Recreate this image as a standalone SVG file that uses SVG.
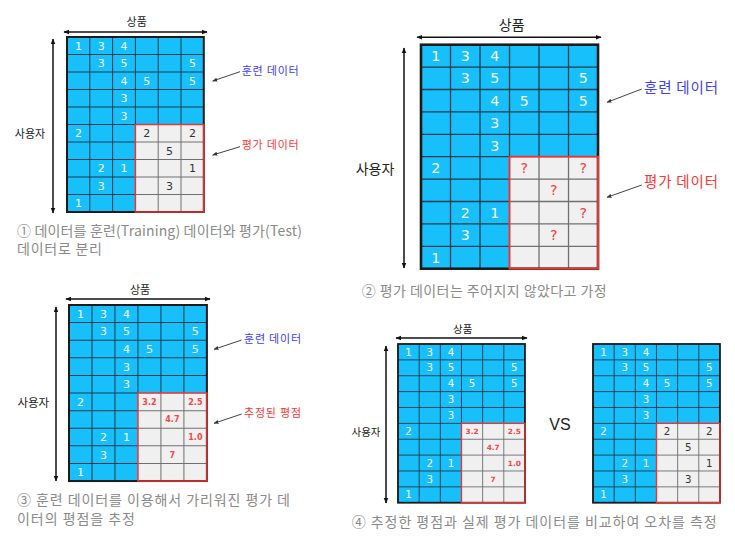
<svg xmlns="http://www.w3.org/2000/svg" xmlns:xlink="http://www.w3.org/1999/xlink" width="735" height="539" viewBox="0 0 735 539">
<style>
.kr{font-family:"Noto Sans CJK KR","Noto Sans",sans-serif}
.ax{fill:#222}
.tr{fill:#3d3dff}
.te{fill:#ff3535}
.cap{fill:#8a8a8a;font-size:14px}
.d{font-family:"DejaVu Sans",Verdana,sans-serif;font-size:11px;text-anchor:middle}
.w{fill:#f4fbff}
.k{fill:#333}
.q{fill:#ff3b3b}
.p{font-family:"DejaVu Sans",Verdana,sans-serif;font-size:8px;font-weight:bold;text-anchor:middle;fill:#f04848}
.gl{stroke:#1f3d4c;stroke-width:1;fill:none}
.gg{stroke:#707070;stroke-width:1;fill:none}
.axis{stroke:#111;stroke-width:1.5;fill:none}
.ptr{stroke:#444;stroke-width:1;fill:none}
</style>
<defs>
<marker id="ah" viewBox="0 0 10 10" refX="9" refY="5" markerWidth="6" markerHeight="6" orient="auto-start-reverse" markerUnits="userSpaceOnUse"><path d="M0,1 L10,5 L0,9z" fill="#111"/></marker>
<marker id="ph" viewBox="0 0 10 10" refX="9" refY="5" markerWidth="5" markerHeight="5" orient="auto" markerUnits="userSpaceOnUse"><path d="M0,1 L10,5 L0,9z" fill="#333"/></marker>
<g id="base">
<rect width="136.8" height="175" fill="#17bffb"/>
<rect x="68.4" y="87.5" width="68.4" height="87.5" fill="#f0f0f0"/>
<path class="gl" d="M22.8 0V175M45.6 0V175M68.4 0V87.5M91.2 0V87.5M114 0V87.5M0 17.5H136.8M0 35H136.8M0 52.5H136.8M0 70H136.8M0 87.5H68.4M0 105H68.4M0 122.5H68.4M0 140H68.4M0 157.5H68.4"/>
<path class="gg" d="M91.2 87.5V175M114 87.5V175M68.4 105H136.8M68.4 122.5H136.8M68.4 140H136.8M68.4 157.5H136.8"/>
<rect width="136.8" height="175" fill="none" stroke="#1a1a1a" stroke-width="2"/>
<rect x="68.4" y="87.5" width="68.4" height="87.5" fill="none" stroke="#ee3333" stroke-width="1.5"/>
<g class="d w">
<text x="11.4" y="12.75">1</text><text x="34.2" y="12.75">3</text><text x="57" y="12.75">4</text>
<text x="34.2" y="30.25">3</text><text x="57" y="30.25">5</text><text x="125.4" y="30.25">5</text>
<text x="57" y="47.75">4</text><text x="79.8" y="47.75">5</text><text x="125.4" y="47.75">5</text>
<text x="57" y="65.25">3</text>
<text x="57" y="82.75">3</text>
<text x="11.4" y="100.25">2</text>
<text x="34.2" y="135.25">2</text><text x="57" y="135.25">1</text>
<text x="34.2" y="152.75">3</text>
<text x="11.4" y="170.25">1</text>
</g>
</g>
<g id="actual" class="d k">
<text x="79.8" y="100.25">2</text><text x="125.4" y="100.25">2</text>
<text x="102.6" y="117.75">5</text>
<text x="125.4" y="135.25">1</text>
<text x="102.6" y="152.75">3</text>
</g>
<g id="pred" class="p">
<text x="79.8" y="99.15">3.2</text><text x="125.4" y="99.15">2.5</text>
<text x="102.6" y="116.65">4.7</text>
<text x="125.4" y="134.15">1.0</text>
<text x="102.6" y="151.65">7</text>
</g>
</defs>

<g id="panel1">
<g transform="translate(67,37)"><use xlink:href="#base"/><use xlink:href="#actual"/></g>
<text class="kr ax" x="136.7" y="25.5" font-size="11" text-anchor="middle">상품</text>
<text class="kr ax" x="30" y="138.3" font-size="11" text-anchor="middle">사용자</text>
<text class="kr tr" x="241.7" y="75.2" font-size="11" textLength="57" lengthAdjust="spacing">훈련 데이터</text>
<text class="kr te" x="241.7" y="148.7" font-size="11" textLength="57" lengthAdjust="spacing">평가 데이터</text>
<text class="kr cap" x="17" y="235.8" textLength="285" lengthAdjust="spacing">① 데이터를 훈련(Training) 데이터와 평가(Test)</text>
<text class="kr cap" x="17" y="254.2" textLength="85" lengthAdjust="spacing">데이터로 분리</text>
</g>

<g id="panel2">
<g transform="translate(421,44.7) scale(1.294,1.28)"><use xlink:href="#base"/>
<g class="d q">
<text x="79.8" y="100.25">?</text><text x="125.4" y="100.25">?</text>
<text x="102.6" y="117.75">?</text>
<text x="125.4" y="135.25">?</text>
<text x="102.6" y="152.75">?</text>
</g></g>
<text class="kr ax" x="511.7" y="30" font-size="14" text-anchor="middle">상품</text>
<text class="kr ax" x="375" y="174" font-size="14" text-anchor="middle">사용자</text>
<text class="kr tr" x="644" y="93" font-size="14.5" textLength="74" lengthAdjust="spacing">훈련 데이터</text>
<text class="kr te" x="644" y="187.2" font-size="14.5" textLength="74" lengthAdjust="spacing">평가 데이터</text>
<text class="kr cap" x="361.7" y="296" textLength="245" lengthAdjust="spacing">② 평가 데이터는 주어지지 않았다고 가정</text>
</g>

<g id="panel3">
<g transform="translate(69,305) scale(1.008,1.006)"><use xlink:href="#base"/><use xlink:href="#pred"/></g>
<text class="kr ax" x="140" y="294" font-size="11" text-anchor="middle">상품</text>
<text class="kr ax" x="33.3" y="406.5" font-size="11.5" text-anchor="middle">사용자</text>
<text class="kr tr" x="244" y="343" font-size="11" textLength="57" lengthAdjust="spacing">훈련 데이터</text>
<text class="kr te" x="244" y="417.3" font-size="11" textLength="57" lengthAdjust="spacing">추정된 평점</text>
<text class="kr cap" x="17" y="505.3" textLength="273" lengthAdjust="spacing">③ 훈련 데이터를 이용해서 가리워진 평가 데</text>
<text class="kr cap" x="17" y="523.5" textLength="118" lengthAdjust="spacing">이터의 평점을 추정</text>
</g>

<g id="panel4">
<g transform="translate(398,344) scale(0.928,0.907)"><use xlink:href="#base"/><use xlink:href="#pred"/></g>
<g transform="translate(593,344) scale(0.928,0.907)"><use xlink:href="#base"/><use xlink:href="#actual"/></g>
<text class="kr ax" x="462.7" y="333" font-size="10.5" text-anchor="middle">상품</text>
<text class="kr ax" x="366" y="436" font-size="10.5" text-anchor="middle">사용자</text>
<text x="560" y="430" font-family="Liberation Sans, Arial, sans-serif" font-size="16" fill="#222" text-anchor="middle">VS</text>
<text class="kr cap" x="351.7" y="527" textLength="365" lengthAdjust="spacing">④ 추정한 평점과 실제 평가 데이터를 비교하여 오차를 측정</text>
</g>

<g id="connectors">
<path class="axis" d="M64 32H207" marker-start="url(#ah)" marker-end="url(#ah)"/>
<path class="axis" d="M53 39V213" marker-start="url(#ah)" marker-end="url(#ah)"/>
<path class="ptr" d="M240 71.7L212.7 81" marker-end="url(#ph)"/>
<path class="ptr" d="M240 146.7L212.7 155" marker-end="url(#ph)"/>
<path class="axis" d="M417 37.3H601" marker-start="url(#ah)" marker-end="url(#ah)"/>
<path class="axis" d="M404 48V268" marker-start="url(#ah)" marker-end="url(#ah)"/>
<path class="ptr" d="M641.7 89L607 102.3" marker-end="url(#ph)"/>
<path class="ptr" d="M641.7 185L607 197.3" marker-end="url(#ph)"/>
<path class="axis" d="M66 299H210" marker-start="url(#ah)" marker-end="url(#ah)"/>
<path class="axis" d="M56 307V481" marker-start="url(#ah)" marker-end="url(#ah)"/>
<path class="ptr" d="M241.7 340L214 349.3" marker-end="url(#ph)"/>
<path class="ptr" d="M241.7 414L214 423.3" marker-end="url(#ph)"/>
<path class="axis" d="M396 338H527" marker-start="url(#ah)" marker-end="url(#ah)"/>
<path class="axis" d="M386 346V503" marker-start="url(#ah)" marker-end="url(#ah)"/>
</g>
</svg>
